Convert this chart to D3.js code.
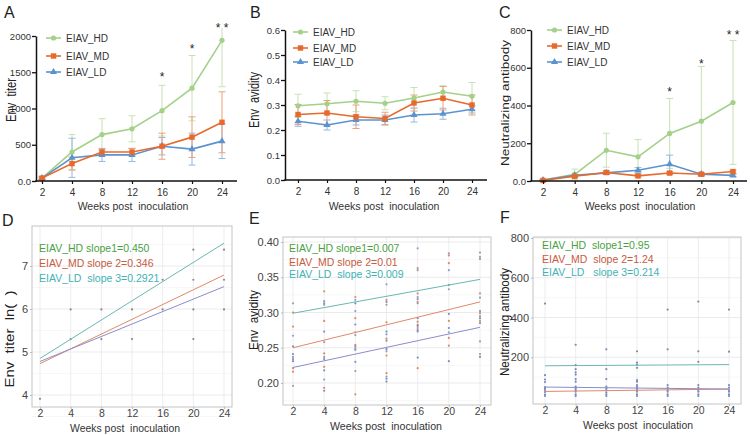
<!DOCTYPE html>
<html><head><meta charset="utf-8">
<script src="https://cdn.jsdelivr.net/npm/d3@7"></script>
<style>body{margin:0;background:#fff} text{font-family:"Liberation Sans",Arial,Helvetica,sans-serif;white-space:pre}</style>
</head><body><svg id="c" width="750" height="435"></svg>
<script>
// ---------- data ----------
const weeks = ["2","4","8","12","16","20","24"];
const groups = ["EIAV_HD","EIAV_MD","EIAV_LD"];

// A: Env titer (mean, sd)
const titerHD = [40,400,640,720,970,1280,1940];
const titerHDsd = [20,240,220,180,350,450,640];
const titerMD = [40,240,400,400,480,605,810];
const titerMDsd = [15,90,40,50,180,280,420];
const titerLD = [40,320,360,360,480,440,550];
const titerLDsd = [15,270,90,90,120,220,240];
const titerTicks = [0,500,1000,1500,2000];
const titerTickLabels = ["0.0","500","1000","1500","2000"];
const titerStars = [["16",1450,"*"],["20",1835,"*"],["24",2125,"* *"]];

// B: Env avidity
const avidHD = [0.297,0.305,0.315,0.307,0.328,0.352,0.335];
const avidHDsd = [0.046,0.043,0.042,0.026,0.042,0.025,0.055];
const avidMD = [0.262,0.268,0.253,0.246,0.308,0.327,0.300];
const avidMDsd = [0.040,0.050,0.047,0.025,0.032,0.047,0.040];
const avidLD = [0.235,0.220,0.240,0.240,0.260,0.265,0.283];
const avidLDsd = [0.020,0.020,0.020,0.020,0.028,0.022,0.015];
const avidTicks = [0,0.1,0.2,0.3,0.4,0.5,0.6];
const avidTickLabels = ["0.0","0.1","0.2","0.3","0.4","0.5","0.6"];

// C: Neutralizing antibody
const nabHD = [5,35,163,128,252,317,416];
const nabHDsd = [4,28,90,92,185,290,328];
const nabMD = [3,25,45,27,42,36,50];
const nabMDsd = [2,6,10,6,8,8,8];
const nabLD = [5,30,43,57,89,36,30];
const nabLDsd = [2,6,8,14,48,8,6];
const nabTicks = [0,200,400,600,800];
const nabTickLabels = ["0.0","200","400","600","800"];
const nabStars = [["16",478,"*"],["20",628,"*"],["24",780,"* *"]];

// D: ln(Env titer) individual values and fitted lines (value at week 2, week 24)
const dPoints = [["2",3.91],["4",5.99],["4",5.30],["8",5.99],["8",5.30],["12",5.99],["12",5.30],
  ["16",6.68],["16",5.99],["20",7.38],["20",6.68],["20",5.99],["20",5.30],["24",7.38],["24",6.68],["24",5.99]];
const dFitHD = [4.85,7.53], dFitMD = [4.73,6.79], dFitLD = [4.78,6.52];
const dSlopes = ["EIAV_HD slope1=0.450","EIAV_MD slope 2=0.346","EIAV_LD  slope 3=0.2921"];
const dTicks = [4,5,6,7];

// E: Env avidity individual values
const ePointsHD = {"2":[0.313,0.267,0.237,0.196],"4":[0.316,0.311,0.258,0.237,0.205],"8":[0.318,0.302,0.268,0.249,0.217],
  "12":[0.340,0.311,0.269,0.245,0.209],"16":[0.391,0.360,0.322,0.313,0.283,0.273],"20":[0.384,0.360,0.333,0.272],"24":[0.385,0.376,0.321,0.295,0.259]};
const ePointsMD = {"2":[0.300,0.280,0.221,0.216],"4":[0.330,0.288,0.242,0.223,0.193],"8":[0.322,0.292,0.272,0.254,0.184],
  "12":[0.318,0.286,0.263,0.239,0.214],"16":[0.363,0.327,0.315,0.287,0.278,0.221],"20":[0.381,0.370,0.288,0.264,0.253],"24":[0.379,0.327,0.299,0.288,0.241]};
const ePointsLD = {"2":[0.252,0.241,0.234,0.231],"4":[0.313,0.273,0.234,0.218,0.189],"8":[0.313,0.283,0.252,0.247,0.230],
  "12":[0.315,0.273,0.260,0.248,0.206,0.202],"16":[0.319,0.292,0.281,0.275,0.236],"20":[0.339,0.298,0.278,0.231],"24":[0.302,0.292,0.285,0.237]};
const eFitHD = [0.299,0.347], eFitMD = [0.250,0.315], eFitLD = [0.222,0.279];
const eSlopes = ["EIAV_HD slope1=0.007","EIAV_MD slope 2=0.01","EIAV_LD  slope 3=0.009"];
const eTicks = [0.20,0.25,0.30,0.35,0.40];
const eTickLabels = ["0.20","0.25","0.30","0.35","0.40"];

// F: Neutralizing antibody individual values
const fPoints = {"2":[470,110,88,75,50,42,35,25,12,5],"4":[263,160,140,124,113,90,77,52,43,35,27,13,5],
  "8":[240,140,90,52,43,35,23,13,5],"12":[230,173,163,147,85,77,60,52,43,35,27,13,5],
  "16":[440,240,60,47,35,27,13,5],"20":[480,230,177,60,47,35,27,13,5],"24":[440,228,60,47,35,27,13,5]};
const fFitHD = [157,163], fFitMD = [28,40], fFitLD = [50,40];
const fSlopes = ["EIAV_HD  slope1=0.95","EIAV_MD  slope 2=1.24","EIAV_LD   slope 3=0.214"];
const fTicks = [200,400,600,800];

// ---------- styles ----------
const colHD = "#a3d18a", colMD = "#e8692c", colLD = "#5b93cf";
const errHD = "#c6e2b4", errMD = "#eea07a", errLD = "#94b7df";
const fitCols = ["#68b8b2","#e0896a","#8c8ccb"];
const txtCols = ["#4a9f45","#c75b3f","#3fb2b5"];
const FF = '"Liberation Sans",Arial,sans-serif';

const svg = d3.select("#c");
svg.append("rect").attr("width",750).attr("height",435).attr("fill","#fff");

function label(x,y,t,size,opts={}){
  const el = svg.append("text").attr("x",x).attr("y",y).text(t).attr("font-size",size)
    .attr("fill",opts.fill||"#222").attr("text-anchor",opts.anchor||"start");
  if(opts.rot) el.attr("transform",`rotate(-90,${x},${y})`);
  if(opts.len) el.attr("textLength",opts.len).attr("lengthAdjust","spacingAndGlyphs");
  return el;
}

function marker(g, type, cx, cy, col){
  if(type==="circle") g.append("circle").attr("cx",cx).attr("cy",cy).attr("r",2.6).attr("fill",col);
  else if(type==="square") g.append("rect").attr("x",cx-2.7).attr("y",cy-2.7).attr("width",5.4).attr("height",5.4).attr("fill",col);
  else g.append("path").attr("d",d3.symbol(d3.symbolTriangle,22)()).attr("transform",`translate(${cx},${cy})`).attr("fill",col);
}

function topPanel(o){
  const x = d3.scalePoint().domain(weeks).range([o.x0,o.x1]);
  const y = d3.scaleLinear().domain([0,o.max]).range([o.yb,o.yt]);
  const g = svg.append("g");
  const series = [
    {m:o.hd, s:o.hdsd, c:colHD, e:errHD, t:"circle"},
    {m:o.ld, s:o.ldsd, c:colLD, e:errLD, t:"tri"},
    {m:o.md, s:o.mdsd, c:colMD, e:errMD, t:"square"}];
  const clipTop = o.yt - 8;
  series.forEach(se=>{
    se.m.forEach((v,i)=>{
      const cx = x(weeks[i]);
      const yu = y(v+se.s[i]), yl = y(Math.max(0,v-se.s[i]));
      const yuc = Math.max(yu, clipTop);
      g.append("line").attr("x1",cx).attr("x2",cx).attr("y1",yuc).attr("y2",yl).attr("stroke",se.e).attr("stroke-width",1);
      if(yu>=clipTop) g.append("line").attr("x1",cx-3.5).attr("x2",cx+3.5).attr("y1",yu).attr("y2",yu).attr("stroke",se.e).attr("stroke-width",1);
      g.append("line").attr("x1",cx-3.5).attr("x2",cx+3.5).attr("y1",yl).attr("y2",yl).attr("stroke",se.e).attr("stroke-width",1);
    });
  });
  series.forEach(se=>{
    g.append("path").datum(se.m).attr("fill","none").attr("stroke",se.c).attr("stroke-width",1.6)
      .attr("d",d3.line().x((d,i)=>x(weeks[i])).y(d=>y(d)));
    se.m.forEach((v,i)=>marker(g,se.t,x(weeks[i]),y(v),se.c));
  });
  const ya = d3.axisLeft(y).tickValues(o.ticks).tickFormat((d,i)=>o.tickLabels[i]).tickSize(4).tickSizeOuter(0);
  const yg = g.append("g").attr("transform",`translate(${o.ax},0)`).call(ya);
  yg.select(".domain").attr("stroke","#111").attr("stroke-width",1.5);
  yg.selectAll(".tick line").attr("stroke","#111").attr("stroke-width",1.3);
  yg.selectAll(".tick text").attr("font-size",9.5).attr("fill","#333").attr("font-family",FF).attr("x",-5);
  const xa = d3.axisBottom(x).tickSize(3);
  const xg = g.append("g").attr("transform",`translate(0,${o.yb})`).call(xa);
  xg.select(".domain").remove();
  xg.selectAll(".tick line").attr("stroke","#111").attr("stroke-width",1.2);
  xg.selectAll(".tick text").attr("font-size",10).attr("fill","#333").attr("font-family",FF).attr("y",8);
  g.append("line").attr("x1",o.ax-0.75).attr("x2",o.axEnd).attr("y1",o.yb).attr("y2",o.yb).attr("stroke","#111").attr("stroke-width",1.5);
  const leg = [["EIAV_HD",colHD,"circle"],["EIAV_MD",colMD,"square"],["EIAV_LD",colLD,"tri"]];
  leg.forEach((l,i)=>{
    const ly = o.legY[i];
    g.append("line").attr("x1",o.legX).attr("x2",o.legX+15).attr("y1",ly).attr("y2",ly).attr("stroke",l[1]).attr("stroke-width",1.6);
    marker(g,l[2],o.legX+7.5,ly,l[1]);
    label(o.legX+20,ly+3.5,l[0],10,{fill:"#333"});
  });
  (o.stars||[]).forEach(s=>{
    label(x(s[0]),y(s[1])+5.5,s[2],12,{anchor:"middle",fill:"#222"});
  });
}

topPanel({x0:42,x1:222,ax:36,axEnd:237,yb:181,yt:36,max:2000,ticks:titerTicks,tickLabels:titerTickLabels,
  hd:titerHD,hdsd:titerHDsd,md:titerMD,mdsd:titerMDsd,ld:titerLD,ldsd:titerLDsd,legX:46,legY:[38,56,72],stars:titerStars});
topPanel({x0:298,x1:472,ax:285,axEnd:487,yb:180,yt:30,max:0.6,ticks:avidTicks,tickLabels:avidTickLabels,
  hd:avidHD,hdsd:avidHDsd,md:avidMD,mdsd:avidMDsd,ld:avidLD,ldsd:avidLDsd,legX:293,legY:[32,48,62]});
topPanel({x0:543,x1:733,ax:531,axEnd:747,yb:181,yt:30,max:800,ticks:nabTicks,tickLabels:nabTickLabels,
  hd:nabHD,hdsd:nabHDsd,md:nabMD,mdsd:nabMDsd,ld:nabLD,ldsd:nabLDsd,legX:547,legY:[30,46,62],stars:nabStars});

label(4,18,"A",16); label(250,18,"B",16); label(499,18,"C",16);
label(16,100,"Env  titer",14,{rot:true,anchor:"middle",len:44});
label(259,100,"Env  avidity",14,{rot:true,anchor:"middle",len:56});
label(509,103,"Neutralizing antibody",11.5,{rot:true,anchor:"middle",len:126});
label(133,210,"Weeks post  inoculation",10.5,{anchor:"middle",fill:"#333"});
label(384,210,"Weeks post  inoculation",10.5,{anchor:"middle",fill:"#333"});
label(640,210,"Weeks post  inoculation",10.5,{anchor:"middle",fill:"#333"});

// ---------- bottom panels ----------
function bottomPanel(o){
  const x = d3.scalePoint().domain(weeks).range([o.x0,o.x1]);
  const y = d3.scaleLinear().domain(o.ydom).range(o.yrng);
  const g = svg.append("g");
  const b = o.box;
  o.minor.forEach(v=>g.append("line").attr("x1",b.l).attr("x2",b.r).attr("y1",y(v)).attr("y2",y(v)).attr("stroke","#f3f3f3").attr("stroke-width",0.7));
  o.ticks.forEach(v=>g.append("line").attr("x1",b.l).attr("x2",b.r).attr("y1",y(v)).attr("y2",y(v)).attr("stroke","#e6e6e6").attr("stroke-width",0.8));
  weeks.forEach(w=>g.append("line").attr("x1",x(w)).attr("x2",x(w)).attr("y1",b.t).attr("y2",b.b).attr("stroke","#e9e9e9").attr("stroke-width",0.8));
  o.points.forEach(p=>g.append("circle").attr("cx",x(p[0])).attr("cy",y(p[1])).attr("r",1.1).attr("fill",p[2]));
  o.fits.forEach((f,i)=>g.append("path").datum([[weeks[0],f[0]],[weeks[6],f[1]]]).attr("fill","none")
    .attr("stroke",fitCols[i]).attr("stroke-width",1).attr("d",d3.line().x(d=>x(d[0])).y(d=>y(d[1]))));
  g.append("rect").attr("x",b.l).attr("y",b.t).attr("width",b.r-b.l).attr("height",b.b-b.t).attr("fill","none").attr("stroke","#c4c4c4").attr("stroke-width",1);
  const ya = d3.axisLeft(y).tickValues(o.ticks).tickFormat((d,i)=>o.tickLabels[i]).tickSize(2).tickSizeOuter(0);
  const yg = g.append("g").attr("transform",`translate(${b.l},0)`).call(ya);
  yg.select(".domain").remove();
  yg.selectAll(".tick line").attr("stroke","#bbb");
  yg.selectAll(".tick text").attr("font-size",11).attr("fill","#444").attr("font-family",FF).attr("x",-4);
  const xa = d3.axisBottom(x).tickSize(2);
  const xg = g.append("g").attr("transform",`translate(0,${b.b})`).call(xa);
  xg.select(".domain").remove();
  xg.selectAll(".tick line").attr("stroke","#bbb");
  xg.selectAll(".tick text").attr("font-size",10.5).attr("fill","#444").attr("font-family",FF).attr("y",3);
  o.slopes.forEach((s,i)=>label(o.sx,o.sy[i]+4,s,10.5,{fill:txtCols[i]}));
}

bottomPanel({x0:40,x1:224,box:{l:32,r:232,t:226,b:407},ydom:[4,7],yrng:[395,266],ticks:dTicks,tickLabels:["4","5","6","7"],
  minor:[3.5,4.5,5.5,6.5,7.5],points:dPoints.map(p=>[p[0],p[1],"#8a8a8a"]),fits:[dFitHD,dFitMD,dFitLD],
  slopes:dSlopes,sx:39,sy:[248,263,278]});

const ePts = [];
[[ePointsHD,"#8aa0c8"],[ePointsMD,"#e08a62"],[ePointsLD,"#7f8fc0"]].forEach(([obj,c])=>{
  Object.keys(obj).forEach(w=>obj[w].forEach(v=>ePts.push([w,v,c])));
});
bottomPanel({x0:293,x1:480,box:{l:283,r:491,t:237,b:405},ydom:[0.20,0.40],yrng:[383,242],ticks:eTicks,tickLabels:eTickLabels,
  minor:[0.175,0.225,0.275,0.325,0.375],points:ePts,fits:[eFitHD,eFitMD,eFitLD],slopes:eSlopes,sx:289,sy:[248,262,274]});

const fPts = [];
Object.keys(fPoints).forEach(w=>fPoints[w].forEach(v=>fPts.push([w,v,"#7b8bb8"])));
bottomPanel({x0:545,x1:729,box:{l:533,r:741,t:237,b:404},ydom:[0,800],yrng:[397,238],ticks:fTicks,tickLabels:["200","400","600","800"],
  minor:[100,300,500,700],points:fPts,fits:[fFitHD,fFitMD,fFitLD],slopes:fSlopes,sx:542,sy:[245,259,272]});

label(2,226,"D",16); label(249,224,"E",16); label(500,223,"F",16);
label(14,339,"Env  titer  ln(  )",13.5,{rot:true,anchor:"middle",len:97});
label(258,320,"Env  avidity",13,{rot:true,anchor:"middle",len:60});
label(509,322,"Neutralizing antibody",12,{rot:true,anchor:"middle",len:108});
label(125,432,"Weeks post  inoculation",11,{anchor:"middle",fill:"#333",len:110});
label(386,430,"Weeks post  inoculation",11,{anchor:"middle",fill:"#333",len:112});
label(638,429,"Weeks post  inoculation",11,{anchor:"middle",fill:"#333",len:110});
</script></body></html>
